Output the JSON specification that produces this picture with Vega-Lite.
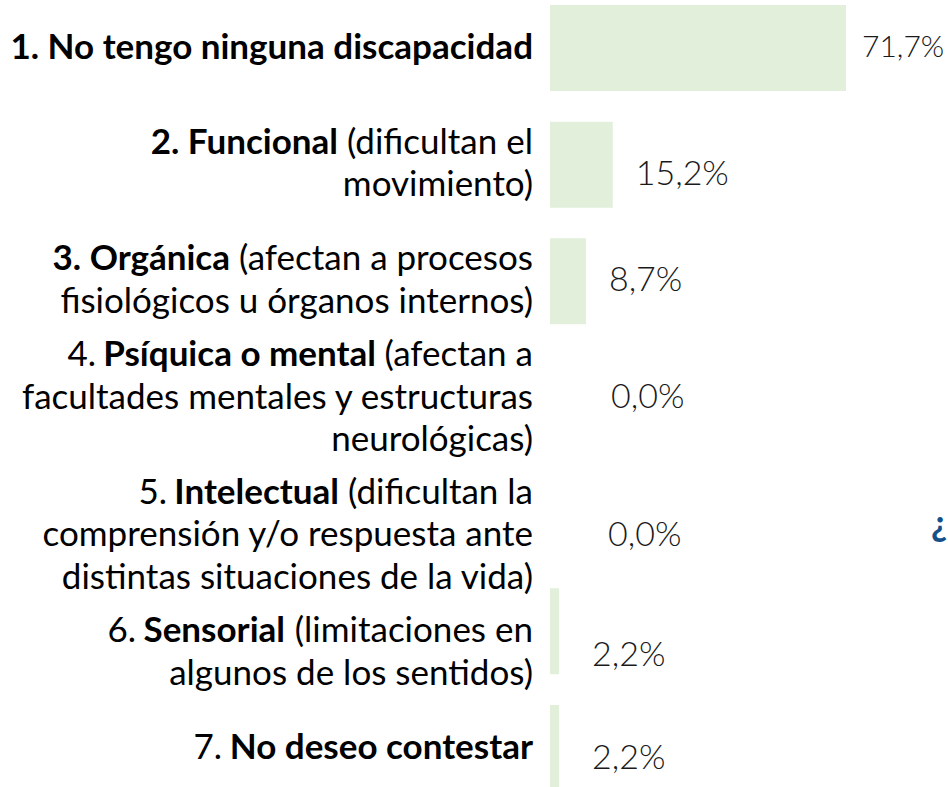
{
  "$schema": "https://vega.github.io/schema/vega-lite/v6.json",
  "width": 398,
  "height": 796,
  "autosize": {"type": "none"},
  "padding": {"left": 550, "top": 0, "right": 0, "bottom": 0},
  "background": "white",
  "config": {
    "view": {"stroke": null},
    "text": {"font": "Lato", "fontSize": 35, "lineHeight": 42.5, "align": "right", "baseline": "middle", "color": "#000000"},
    "locale": {"number": {"decimal": ",", "thousands": ".", "grouping": [3], "currency": ["", " €"]}}
  },
  "data": {
    "values": [
      {"cat": "1", "value": 0.717, "pre": [""], "bold": ["1. No tengo ninguna discapacidad"], "normal": [""]},
      {"cat": "2", "value": 0.152, "pre": ["", ""], "bold": ["2. Funcional", ""], "normal": ["(dificultan el", "movimiento)"]},
      {"cat": "3", "value": 0.087, "pre": ["", ""], "bold": ["3. Orgánica", ""], "normal": ["(afectan a procesos", "fisiológicos u órganos internos)"]},
      {"cat": "4", "value": 0.0, "pre": ["4.", "", ""], "bold": ["Psíquica o mental", "", ""], "normal": ["(afectan a", "facultades mentales y estructuras", "neurológicas)"]},
      {"cat": "5", "value": 0.0, "pre": ["5.", "", ""], "bold": ["Intelectual", "", ""], "normal": ["(dificultan la", "comprensión y/o respuesta ante", "distintas situaciones de la vida)"]},
      {"cat": "6", "value": 0.022, "pre": ["6.", ""], "bold": ["Sensorial", ""], "normal": ["(limitaciones en", "algunos de los sentidos)"]},
      {"cat": "7", "value": 0.022, "pre": ["7."], "bold": ["No deseo contestar"], "normal": [""]}
    ]
  },
  "encoding": {
    "y": {"field": "cat", "type": "nominal", "axis": null, "sort": null, "scale": {"paddingInner": 0.263, "paddingOuter": 0.043}}
  },
  "layer": [
    {
      "mark": {"type": "bar", "color": "#e2efda"},
      "encoding": {"x": {"field": "value", "type": "quantitative", "axis": null, "scale": {"domain": [0, 0.964], "nice": false}}}
    },
    {
      "transform": [{"filter": "datum.cat == '1' || datum.cat == '6' || datum.cat == '7'"}],
      "mark": {"type": "text", "dx": -17},
      "encoding": {"x": {"datum": 0, "type": "quantitative"}, "text": {"field": "normal"}}
    },
    {
      "transform": [{"filter": "datum.cat == '2' || datum.cat == '3' || datum.cat == '5'"}],
      "mark": {"type": "text", "dx": -17, "dy": -22},
      "encoding": {"x": {"datum": 0, "type": "quantitative"}, "text": {"field": "normal"}}
    },
    {
      "transform": [{"filter": "datum.cat == '4'"}],
      "mark": {"type": "text", "dx": -17, "dy": -43},
      "encoding": {"x": {"datum": 0, "type": "quantitative"}, "text": {"field": "normal"}}
    },
    {
      "transform": [{"filter": "datum.cat == '1' || datum.cat == '7'"}],
      "mark": {"type": "text", "fontWeight": "bold", "dx": -17},
      "encoding": {"x": {"datum": 0, "type": "quantitative"}, "text": {"field": "bold"}}
    },
    {
      "transform": [{"filter": "datum.cat == '2'"}],
      "mark": {"type": "text", "fontWeight": "bold", "dx": -212, "dy": -22},
      "encoding": {"x": {"datum": 0, "type": "quantitative"}, "text": {"field": "bold"}}
    },
    {
      "transform": [{"filter": "datum.cat == '3'"}],
      "mark": {"type": "text", "fontWeight": "bold", "dx": -320, "dy": -22},
      "encoding": {"x": {"datum": 0, "type": "quantitative"}, "text": {"field": "bold"}}
    },
    {
      "transform": [{"filter": "datum.cat == '4'"}],
      "mark": {"type": "text", "fontWeight": "bold", "dx": -174, "dy": -43},
      "encoding": {"x": {"datum": 0, "type": "quantitative"}, "text": {"field": "bold"}}
    },
    {
      "transform": [{"filter": "datum.cat == '5'"}],
      "mark": {"type": "text", "fontWeight": "bold", "dx": -211, "dy": -22},
      "encoding": {"x": {"datum": 0, "type": "quantitative"}, "text": {"field": "bold"}}
    },
    {
      "transform": [{"filter": "datum.cat == '6'"}],
      "mark": {"type": "text", "fontWeight": "bold", "dx": -265},
      "encoding": {"x": {"datum": 0, "type": "quantitative"}, "text": {"field": "bold"}}
    },
    {
      "transform": [{"filter": "datum.cat == '4'"}],
      "mark": {"type": "text", "dx": -454, "dy": -43},
      "encoding": {"x": {"datum": 0, "type": "quantitative"}, "text": {"field": "pre"}}
    },
    {
      "transform": [{"filter": "datum.cat == '5'"}],
      "mark": {"type": "text", "dx": -383, "dy": -22},
      "encoding": {"x": {"datum": 0, "type": "quantitative"}, "text": {"field": "pre"}}
    },
    {
      "transform": [{"filter": "datum.cat == '6'"}],
      "mark": {"type": "text", "dx": -414},
      "encoding": {"x": {"datum": 0, "type": "quantitative"}, "text": {"field": "pre"}}
    },
    {
      "transform": [{"filter": "datum.cat == '7'"}],
      "mark": {"type": "text", "dx": -328},
      "encoding": {"x": {"datum": 0, "type": "quantitative"}, "text": {"field": "pre"}}
    },
    {
      "transform": [{"filter": "datum.cat == '1'"}],
      "mark": {"type": "text", "align": "left", "fontSize": 30, "fontWeight": 300, "color": "#1a1a1a", "dx": 16},
      "encoding": {"x": {"field": "value", "type": "quantitative"}, "text": {"field": "value", "type": "quantitative", "format": ".1%"}}
    },
    {
      "transform": [{"filter": "datum.cat == '2'"}],
      "mark": {"type": "text", "align": "left", "fontSize": 34, "fontWeight": 300, "color": "#1a1a1a", "dx": 23, "dy": 10},
      "encoding": {"x": {"field": "value", "type": "quantitative"}, "text": {"field": "value", "type": "quantitative", "format": ".1%"}}
    },
    {
      "transform": [{"filter": "datum.cat == '3'"}],
      "mark": {"type": "text", "align": "left", "fontSize": 34, "fontWeight": 300, "color": "#1a1a1a", "dx": 23},
      "encoding": {"x": {"field": "value", "type": "quantitative"}, "text": {"field": "value", "type": "quantitative", "format": ".1%"}}
    },
    {
      "transform": [{"filter": "datum.cat == '4'"}],
      "mark": {"type": "text", "align": "left", "fontSize": 34, "fontWeight": 300, "color": "#1a1a1a", "dx": 61},
      "encoding": {"x": {"field": "value", "type": "quantitative"}, "text": {"field": "value", "type": "quantitative", "format": ".1%"}}
    },
    {
      "transform": [{"filter": "datum.cat == '5'"}],
      "mark": {"type": "text", "align": "left", "fontSize": 34, "fontWeight": 300, "color": "#1a1a1a", "dx": 58, "dy": 21},
      "encoding": {"x": {"field": "value", "type": "quantitative"}, "text": {"field": "value", "type": "quantitative", "format": ".1%"}}
    },
    {
      "transform": [{"filter": "datum.cat == '6'"}],
      "mark": {"type": "text", "align": "left", "fontSize": 34, "fontWeight": 300, "color": "#1a1a1a", "dx": 33, "dy": 25},
      "encoding": {"x": {"field": "value", "type": "quantitative"}, "text": {"field": "value", "type": "quantitative", "format": ".1%"}}
    },
    {
      "transform": [{"filter": "datum.cat == '7'"}],
      "mark": {"type": "text", "align": "left", "fontSize": 34, "fontWeight": 300, "color": "#1a1a1a", "dx": 33, "dy": 11},
      "encoding": {"x": {"field": "value", "type": "quantitative"}, "text": {"field": "value", "type": "quantitative", "format": ".1%"}}
    },
    {
      "data": {"values": [{"glyph": "¿"}]},
      "mark": {"type": "text", "align": "left", "fontSize": 36, "fontWeight": "bold", "color": "#16508a", "dy": 10},
      "encoding": {"x": {"datum": 0.923, "type": "quantitative"}, "y": {"datum": "5", "type": "nominal"}, "text": {"field": "glyph"}}
    }
  ]
}
